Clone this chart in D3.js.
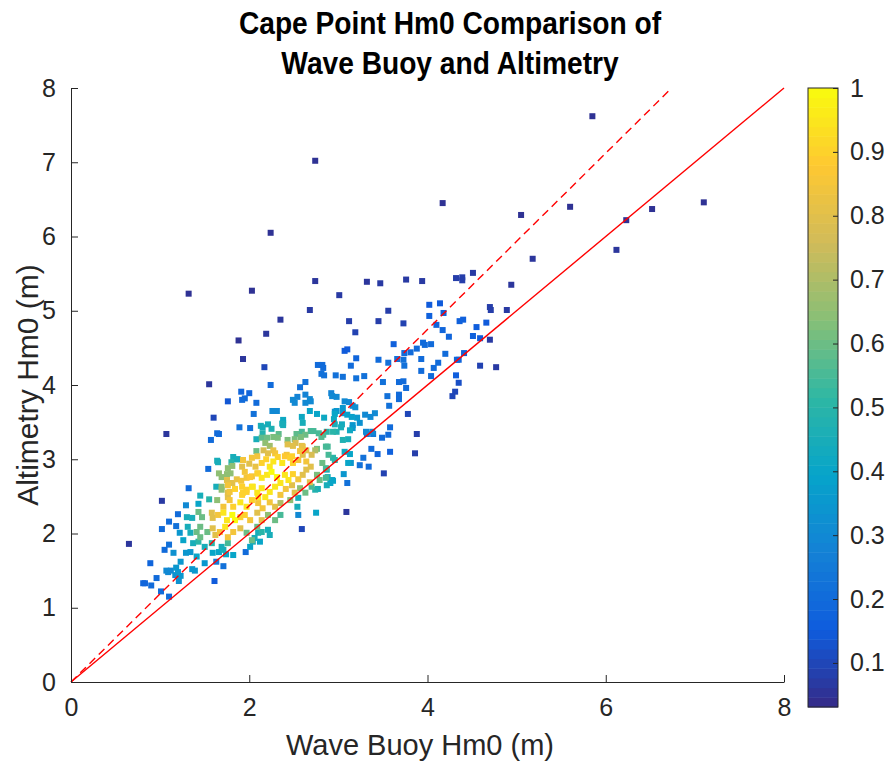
<!DOCTYPE html>
<html>
<head>
<meta charset="utf-8">
<script src="https://cdn.jsdelivr.net/npm/d3@7"></script>
<style>
  body { margin: 0; background: #fff; }
  text { font-family: "Liberation Sans", Arial, sans-serif; fill: #262626; }
</style>
</head>
<body>
<svg id="chart" width="891" height="763"></svg>
<script>
// [buoy Hm0, altimetry Hm0, normalised density]
var outliers = [
  [5.85,7.62,0.05],[2.74,7.02,0.05],[2.24,6.05,0.05],[4.17,6.45,0.05],[5.05,6.29,0.05],[5.60,6.40,0.05],
  [6.52,6.37,0.05],[7.10,6.46,0.05],[6.23,6.22,0.05],[6.12,5.82,0.06],[5.18,5.70,0.06],[1.32,5.23,0.05],
  [2.03,5.27,0.05],[2.74,5.40,0.06],[3.32,5.39,0.06],[3.76,5.42,0.07],[2.35,4.88,0.06],[2.19,4.69,0.06],
  [1.88,4.60,0.05],[1.93,4.35,0.06],[0.65,1.86,0.06],[1.07,3.34,0.06],[1.55,4.01,0.06],[1.02,2.44,0.07],
  [3.09,2.29,0.06],[4.77,4.24,0.07],[4.70,4.61,0.07],[4.94,5.35,0.06],[3.47,5.37,0.07],[3.94,5.40,0.07],
  [4.32,5.44,0.08],[4.39,5.45,0.08],[4.39,5.41,0.08],[4.51,5.51,0.07],[3.56,5.00,0.08],[3.45,4.86,0.08],
  [3.73,4.83,0.09],[4.70,5.05,0.08],[4.71,5.01,0.08],[4.89,5.01,0.07],[4.59,4.26,0.09],[3.01,5.21,0.07],
  [2.68,5.01,0.07],[3.12,4.86,0.08],[3.19,4.71,0.09],[3.78,3.61,0.1],[3.88,3.34,0.08],[3.86,3.08,0.08],
  [4.28,3.85,0.1],[4.31,3.91,0.1],[4.35,4.03,0.12],[2.17,4.24,0.1],[1.60,3.56,0.1],[3.51,2.81,0.09],
  [2.59,2.06,0.1]
];

var upperBlue = [
  [4.02,5.08,0.15],[4.14,5.10,0.15],[4.02,4.93,0.17],[4.18,4.97,0.17],[4.10,4.81,0.18],[4.36,4.86,0.17],
  [4.40,4.88,0.17],[4.17,4.74,0.18],[4.24,4.65,0.18],[4.55,4.78,0.16],[4.66,4.84,0.15],[4.51,4.66,0.17],
  [4.59,4.63,0.15],[3.62,4.55,0.17],[3.95,4.57,0.2],[3.97,4.54,0.2],[4.04,4.55,0.2],[3.88,4.49,0.2],
  [3.81,4.44,0.2],[3.74,4.43,0.2],[3.45,4.34,0.2],[3.56,4.30,0.22],[3.66,4.35,0.22],[3.73,4.34,0.22],
  [3.74,4.26,0.22],[3.93,4.35,0.2],[4.20,4.42,0.2],[4.12,4.30,0.2],[4.07,4.23,0.2],[4.33,4.34,0.18],
  [4.35,4.34,0.18],[4.41,4.43,0.18],[3.93,4.19,0.2],[4.04,4.12,0.2],[4.32,4.13,0.16],[3.29,4.12,0.22],
  [3.07,4.46,0.15],[3.10,4.48,0.15],[3.20,4.36,0.18],[2.77,4.27,0.2],[2.82,4.27,0.2],[2.83,4.23,0.2],
  [2.81,4.15,0.22],[2.84,4.13,0.22],[2.97,4.13,0.22],[3.05,4.11,0.22],[3.14,4.26,0.2],[3.20,4.09,0.22],
  [2.57,3.97,0.22],[2.63,4.04,0.22],[3.55,3.85,0.22],[3.57,3.72,0.22],[3.68,3.87,0.2],[3.68,3.81,0.2],
  [3.76,3.96,0.2],[3.50,4.04,0.22],[3.68,4.04,0.2],[3.73,4.05,0.2],[3.24,2.92,0.22],[3.34,2.90,0.2],
  [3.28,3.02,0.22],[3.37,3.14,0.2],[3.44,3.07,0.18],[3.49,3.29,0.2],[3.56,3.33,0.2],[3.58,3.43,0.2],
  [3.58,3.10,0.17],[3.39,3.34,0.25],[3.32,3.34,0.25],[3.10,2.68,0.22],[1.91,3.91,0.18],[2.00,3.89,0.18],
  [1.92,3.80,0.2],[1.95,3.82,0.2],[2.08,3.76,0.2],[2.05,3.61,0.22],[1.89,3.43,0.22],[2.01,3.42,0.22],
  [1.64,3.35,0.2],[1.66,3.34,0.2],[1.57,3.26,0.2],[2.24,4.00,0.2],[1.54,2.87,0.2],[1.32,2.61,0.2],
  [1.76,3.78,0.14]
];

var upperTeal = [
  [2.26,3.65,0.3],[2.31,3.65,0.3],[2.92,3.89,0.28],[2.93,3.85,0.3],[2.98,3.84,0.3],[3.07,3.78,0.3],
  [3.12,3.77,0.3],[3.16,3.72,0.32],[3.19,3.70,0.32],[2.96,3.64,0.35],[2.98,3.65,0.35],[3.05,3.69,0.35],
  [3.05,3.62,0.35],[3.41,3.62,0.3],[3.36,3.57,0.3],[3.30,3.60,0.3],[2.49,3.80,0.3],[2.51,3.76,0.3],
  [2.54,3.84,0.28],[2.63,3.87,0.28],[2.68,3.81,0.3],[2.69,3.78,0.3],[2.63,3.76,0.3],[3.16,3.46,0.35],
  [3.16,3.42,0.35],[3.24,3.49,0.33],[3.31,3.37,0.3],[3.38,3.37,0.3],[3.14,2.95,0.35],[3.06,2.80,0.35],
  [3.11,2.95,0.4],[3.13,3.07,0.4],[3.07,3.10,0.42],[2.93,2.72,0.4],[2.94,2.71,0.4],[2.91,2.68,0.4],
  [2.88,2.76,0.45],[2.87,2.86,0.45],[2.59,3.57,0.42],[2.68,3.65,0.4],[2.76,3.61,0.4],[2.84,3.56,0.42],
  [2.96,3.61,0.4],[2.95,3.54,0.42],[3.10,3.60,0.38],[3.15,3.57,0.38],[3.21,3.56,0.36],[2.60,3.49,0.45],
  [2.38,3.53,0.42],[2.38,3.49,0.42],[2.96,3.47,0.45],[3.04,3.47,0.43],[3.03,3.43,0.45],[3.13,3.39,0.42],
  [3.11,3.27,0.45],[3.05,3.26,0.47],[2.94,3.02,0.5],[2.96,2.99,0.5],[2.13,3.45,0.45],[2.21,3.47,0.45],
  [2.37,3.48,0.45],[2.38,3.46,0.45],[2.15,3.43,0.45],[2.15,3.35,0.48],[2.25,3.41,0.47],[2.08,3.27,0.45],
  [2.69,3.38,0.55],[2.72,3.38,0.55],[2.78,3.35,0.55],[2.81,3.30,0.57],[2.83,3.33,0.55],[2.87,3.37,0.5],
  [2.94,3.37,0.5],[2.98,3.37,0.48],[2.63,3.33,0.6],[2.58,3.30,0.62],[2.51,3.27,0.62],[2.43,3.26,0.62],
  [2.88,3.17,0.55],[2.20,3.29,0.6],[2.27,3.30,0.62],[2.32,3.29,0.62],[2.18,3.22,0.65],[2.23,3.18,0.68],
  [2.14,3.29,0.58],[2.33,3.34,0.58],[2.53,3.34,0.58],[2.59,3.37,0.55],[2.76,3.14,0.62],[2.86,3.17,0.55],
  [2.89,3.06,0.55],[2.82,2.95,0.6],[2.86,2.88,0.55],[2.76,2.79,0.62],[2.79,2.72,0.6],[2.86,2.75,0.55],
  [2.57,2.61,0.65],[2.63,2.55,0.6],[2.70,2.63,0.55],[2.77,2.60,0.45],[2.74,2.59,0.48],[2.87,2.65,0.45],
  [2.75,2.28,0.4],[2.55,2.25,0.3],[2.55,2.48,0.45],[2.54,2.36,0.45],[2.46,2.45,0.65],[2.35,2.41,0.7],
  [2.74,3.12,0.7]
];

var upperCore = [
  [2.49,3.18,0.8],[2.60,3.17,0.82],[2.57,3.11,0.85],[2.27,3.12,0.82],[2.43,3.20,0.8],[2.52,3.22,0.78],
  [2.59,3.18,0.8],[2.64,3.12,0.8],[2.70,3.06,0.78],[2.16,3.12,0.78],[2.21,3.08,0.8],[2.29,3.08,0.85],
  [2.40,3.04,0.88],[2.48,3.04,0.9],[2.09,3.04,0.85],[2.14,2.95,0.9],[2.19,3.00,0.9],[2.23,2.90,0.95],
  [2.27,2.97,0.95],[2.32,3.03,0.9],[2.37,2.95,0.95],[2.42,3.06,0.85],[2.46,3.02,0.9],[2.49,2.95,0.9],
  [2.55,2.99,0.85],[2.60,3.06,0.8],[2.64,2.97,0.85],[2.69,2.90,0.8],[2.09,2.81,0.9],[2.14,2.75,0.95],
  [2.20,2.79,0.95],[2.25,2.83,1.0],[2.31,2.76,1.0],[2.35,2.68,0.95],[2.40,2.79,0.95],[2.44,2.72,0.95],
  [2.49,2.80,0.9],[2.55,2.73,0.85],[2.60,2.79,0.8],[2.64,2.86,0.8],[2.68,2.69,0.8],[1.93,2.99,0.85],
  [2.03,3.02,0.85],[1.95,2.83,0.85],[2.01,2.76,0.88],[2.10,2.81,0.9],[2.03,2.77,0.85],[1.97,2.75,0.85],
  [1.91,2.71,0.85],[1.86,2.73,0.82],[1.92,2.90,0.8],[2.00,2.94,0.8],[2.07,2.90,0.82],[1.75,2.72,0.8],
  [1.81,2.68,0.8]
];

var lowerCloud = [
  [1.76,2.65,0.85],[1.78,2.56,0.85],[1.84,2.60,0.9],[1.92,2.63,0.9],[1.97,2.56,0.9],[2.03,2.63,0.95],
  [2.09,2.55,0.95],[2.14,2.61,0.95],[2.18,2.49,0.95],[2.23,2.56,0.95],[2.29,2.63,0.95],[2.35,2.52,0.85],
  [2.41,2.60,0.85],[2.48,2.65,0.8],[2.51,2.55,0.8],[2.04,2.63,0.95],[2.10,2.49,0.95],[1.93,2.55,0.9],
  [1.92,2.52,0.9],[1.97,2.59,0.9],[1.76,2.55,0.8],[1.76,2.49,0.8],[1.71,2.36,0.85],[1.78,2.45,0.85],
  [1.82,2.36,0.9],[1.90,2.42,0.95],[1.97,2.36,0.95],[2.03,2.45,0.9],[2.10,2.41,0.85],[2.15,2.34,0.85],
  [2.23,2.42,0.85],[2.29,2.36,0.8],[1.58,2.28,0.8],[1.59,2.21,0.8],[1.65,2.25,0.85],[1.71,2.28,0.95],
  [1.75,2.18,0.95],[1.81,2.25,1.0],[1.84,2.18,1.0],[1.90,2.22,0.9],[1.95,2.25,0.9],[2.01,2.18,0.85],
  [2.09,2.28,0.8],[2.14,2.18,0.8],[2.21,2.25,0.65],[2.29,2.18,0.6],[2.35,2.25,0.55],[1.59,2.07,0.8],
  [1.62,1.98,0.8],[1.67,2.02,0.85],[1.73,2.09,0.95],[1.76,1.95,0.85],[1.82,2.02,0.85],[1.90,2.07,0.8],
  [1.97,2.01,0.6],[2.03,1.91,0.6],[2.09,2.09,0.6],[2.14,2.02,0.5],[2.21,2.05,0.45],[2.23,1.98,0.45],
  [2.10,2.01,0.45],[1.64,2.45,0.65],[1.69,2.63,0.65],[1.69,2.59,0.65],[1.66,2.81,0.65],[1.69,2.76,0.65],
  [1.75,2.80,0.65],[1.79,2.81,0.65],[1.76,2.88,0.65],[1.81,2.91,0.65],[1.82,3.03,0.45],[1.86,3.00,0.45],
  [1.87,3.00,0.45],[1.64,2.98,0.45],[1.65,2.96,0.45],[1.80,2.96,0.5],[2.08,3.11,0.6],[1.63,2.63,0.45],
  [1.55,2.46,0.5],[1.45,2.51,0.45],[1.45,2.09,0.6],[1.41,2.02,0.6],[1.45,1.95,0.6],[1.53,2.02,0.6],
  [1.47,2.22,0.6],[1.43,2.29,0.6],[1.30,2.22,0.45],[1.36,2.21,0.45],[1.31,2.09,0.45],[1.34,2.01,0.45],
  [1.43,2.40,0.4],[1.29,2.38,0.3],[1.26,1.91,0.4],[1.37,1.87,0.45],[1.43,1.89,0.5],[1.50,1.82,0.45],
  [1.58,1.87,0.5],[1.69,1.82,0.45],[1.76,1.87,0.55],[2.01,1.82,0.4],[2.12,1.89,0.4],[2.04,1.89,0.45],
  [2.06,1.94,0.45],[1.71,1.78,0.45],[1.82,1.71,0.4],[1.74,1.72,0.4],[1.59,1.74,0.4],[1.66,1.75,0.4]
];

var lowerTail = [
  [1.50,1.60,0.35],[1.41,1.69,0.4],[1.29,1.74,0.35],[1.34,1.75,0.35],[1.36,1.52,0.35],[1.39,1.50,0.35],
  [1.21,1.36,0.33],[1.23,1.43,0.35],[1.18,1.54,0.35],[1.20,1.48,0.35],[1.17,1.44,0.33],[1.07,1.50,0.3],
  [1.09,1.48,0.3],[1.12,1.50,0.3],[1.23,1.62,0.35],[1.15,1.74,0.33],[1.22,2.01,0.35],[1.20,2.26,0.2],
  [1.10,2.16,0.2],[1.18,2.10,0.22],[1.02,2.06,0.2],[1.10,1.85,0.22],[1.05,1.78,0.2],[0.89,1.60,0.18],
  [0.96,1.40,0.2],[0.81,1.33,0.18],[0.83,1.33,0.18],[0.90,1.30,0.2],[1.01,1.22,0.2],[1.10,1.15,0.2],
  [1.61,1.36,0.15],[1.63,1.62,0.25],[1.71,1.56,0.22],[1.96,1.75,0.2]
];

var axisTicksX = [0, 2, 4, 6, 8];
var axisTicksY = [0, 1, 2, 3, 4, 5, 6, 7, 8];
var cbarTicks = [0.1, 0.2, 0.3, 0.4, 0.5, 0.6, 0.7, 0.8, 0.9, 1];
var cbarLimits = [0.031, 1];
var fitSlope = 1.187;   // dashed regression line
var titleLines = ["Cape Point Hm0 Comparison of", "Wave Buoy and Altimetry"];

// parula-like colormap
var parulaStops = ["#352a87", "#0f5cdd", "#1481d6", "#06a4ca", "#2eb7a4", "#87bf77", "#d1bb59", "#fec832", "#f9fb0e"];
var parula = d3.scaleLinear()
  .domain(parulaStops.map(function(d, i) { return i / (parulaStops.length - 1); }))
  .range(parulaStops)
  .interpolate(d3.interpolateRgb);
var cnorm = d3.scaleLinear().domain(cbarLimits).range([0, 1]).clamp(true);
function colorOf(v) { return parula(cnorm(v)); }

var svg = d3.select("#chart");
var plotL = 71, plotR = 784, plotT = 88, plotB = 682;
var fontFam = '"Liberation Sans", Arial, sans-serif';

var x = d3.scaleLinear().domain([0, 8]).range([plotL, plotR]);
var y = d3.scaleLinear().domain([0, 8]).range([plotB, plotT]);

// points, low density drawn first
var pts = [].concat(outliers, upperBlue, upperTeal, upperCore, lowerCloud, lowerTail)
  .sort(function(a, b) { return a[2] - b[2]; });

var ms = 6;
svg.append("g")
  .selectAll("rect")
  .data(pts)
  .enter().append("rect")
  .attr("x", function(d) { return x(d[0]) - ms / 2; })
  .attr("y", function(d) { return y(d[1]) - ms / 2; })
  .attr("width", ms)
  .attr("height", ms)
  .attr("fill", function(d) { return colorOf(d[2]); });

// 1:1 line and fit line
svg.append("line")
  .attr("x1", x(0)).attr("y1", y(0))
  .attr("x2", x(8)).attr("y2", y(8))
  .attr("stroke", "#ff0000").attr("stroke-width", 1.4);
svg.append("line")
  .attr("x1", x(0)).attr("y1", y(0))
  .attr("x2", x(8 / fitSlope)).attr("y2", y(8))
  .attr("stroke", "#ff0000").attr("stroke-width", 1.4)
  .attr("stroke-dasharray", "8,5");

// axes (MATLAB style: inward ticks, no box)
var xAxis = d3.axisBottom(x).tickValues(axisTicksX).tickSizeInner(-7).tickSizeOuter(0).tickPadding(16);
var gx = svg.append("g")
  .attr("transform", "translate(0," + plotB + ")")
  .call(xAxis);
var yAxis = d3.axisLeft(y).tickValues(axisTicksY).tickSizeInner(-7).tickSizeOuter(0).tickPadding(15);
var gy = svg.append("g")
  .attr("transform", "translate(" + plotL + ",0)")
  .call(yAxis);
[gx, gy].forEach(function(g) {
  g.select(".domain").attr("stroke", "#262626").attr("stroke-width", 1);
  g.selectAll(".tick line").attr("stroke", "#262626");
  g.selectAll(".tick text").attr("fill", "#262626")
    .style("font-size", "25px").style("font-family", fontFam);
});

// axis labels
svg.append("text")
  .attr("x", 420).attr("y", 755)
  .attr("text-anchor", "middle")
  .style("font-size", "29px")
  .text("Wave Buoy Hm0 (m)");
svg.append("text")
  .attr("transform", "translate(38,385) rotate(-90)")
  .attr("text-anchor", "middle")
  .style("font-size", "30px")
  .text("Altimetry Hm0 (m)");

// title (slightly condensed, like the MATLAB export)
svg.append("g").selectAll("text")
  .data(titleLines)
  .enter().append("text")
  .attr("transform", function(d, i) { return "translate(450," + (34 + i * 40) + ") scale(0.88,1)"; })
  .attr("text-anchor", "middle")
  .style("font-size", "32px")
  .style("font-weight", "bold")
  .style("fill", "#000")
  .text(function(d) { return d; });

// colorbar
var cbX = 808, cbW = 30, cbTop = 88, cbBottom = 707;
var cy = d3.scaleLinear().domain(cbarLimits).range([cbBottom, cbTop]);
var nBands = 64;
var bandVals = d3.range(nBands).map(function(i) { return cbarLimits[0] + (cbarLimits[1] - cbarLimits[0]) * i / nBands; });
var bandH = (cbBottom - cbTop) / nBands;
svg.append("g").selectAll("rect")
  .data(bandVals)
  .enter().append("rect")
  .attr("x", cbX)
  .attr("y", function(d) { return cy(d) - bandH; })
  .attr("width", cbW)
  .attr("height", bandH + 0.5)
  .attr("fill", function(d) { return colorOf(d + (cbarLimits[1] - cbarLimits[0]) / nBands / 2); });
svg.append("rect")
  .attr("x", cbX).attr("y", cbTop)
  .attr("width", cbW).attr("height", cbBottom - cbTop)
  .attr("fill", "none").attr("stroke", "#262626").attr("stroke-width", 1);
var cAxis = d3.axisRight(cy).tickValues(cbarTicks).tickSizeInner(-5).tickSizeOuter(0).tickPadding(12)
  .tickFormat(function(d) { return d === 1 ? "1" : d3.format(".1f")(d); });
var gc = svg.append("g")
  .attr("transform", "translate(" + (cbX + cbW) + ",0)")
  .call(cAxis);
gc.select(".domain").remove();
gc.selectAll(".tick line").attr("stroke", "#262626");
gc.selectAll(".tick text").attr("fill", "#262626")
  .style("font-size", "25px").style("font-family", fontFam);
</script>
</body>
</html>
